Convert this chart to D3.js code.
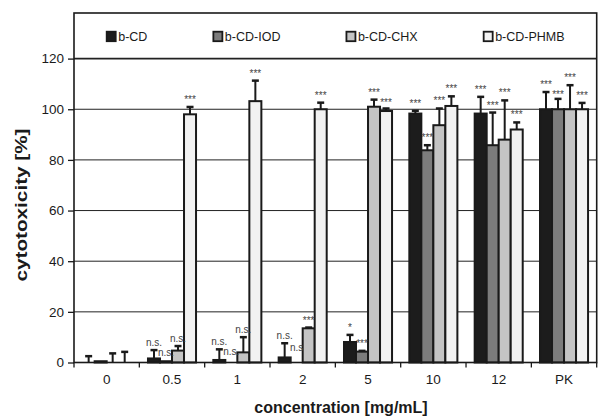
<!DOCTYPE html>
<html>
<head>
<meta charset="utf-8">
<script src="https://cdn.jsdelivr.net/npm/d3@7"></script>
<style>
  body { margin: 0; background: #fff; }
  svg { display: block; font-family: "Liberation Sans", Arial, sans-serif; }
</style>
</head>
<body>
<div id="chart"></div>
<script>
// concentrations on the x axis
var groups = ["0", "0.5", "1", "2", "5", "10", "12", "PK"];
var seriesNames = ["b-CD", "b-CD-IOD", "b-CD-CHX", "b-CD-PHMB"];
var yTicks = [0, 20, 40, 60, 80, 100, 120];

// mean cytotoxicity [%]
var bCD  = [0, 1.6, 1.0, 2.0, 8.1, 98.3, 98.3, 100];
var bIOD = [0.5, 0.5, 0, 0, 4.3, 83.8, 85.8, 100];
var bCHX = [0, 4.7, 4.0, 13.5, 101, 93.7, 88, 100];
var bPHMB = [0, 98, 103.2, 100, 99.3, 101.3, 92, 100];

// upper error (SD)
var errCD  = [2.5, 3.3, 4.2, 5.6, 2.8, 1.1, 6.6, 6.8];
var errIOD = [0, 0, 0, 0, 0.3, 2.0, 12.9, 4.1];
var errCHX = [3.6, 1.8, 6.0, 0.3, 2.8, 6.6, 15.5, 9.5];
var errPHMB = [4.2, 2.9, 8.1, 2.6, 1.0, 3.8, 2.8, 2.5];

// significance labels
var sigCD  = ["", "n.s.", "n.s.", "n.s.", "*", "***", "***", "***"];
var sigIOD = ["", "n.s.", "n.s.", "n.s", "***", "***", "***", "***"];
var sigCHX = ["", "n.s.", "n.s.", "***", "***", "***", "***", "***"];
var sigPHMB = ["", "***", "***", "***", "***", "***", "***", "***"];

var means = [bCD, bIOD, bCHX, bPHMB];
var errs = [errCD, errIOD, errCHX, errPHMB];
var sigs = [sigCD, sigIOD, sigCHX, sigPHMB];
var fills = ["#1c1c1c", "#7c7c7c", "#c4c4c4", "#f2f2f2"];

var width = 598, height = 417;
var mLeft = 74, mRight = 596.7, frameTop = 13, plotTop = 58.6, plotBottom = 362.5;

var svg = d3.select("#chart").append("svg")
  .attr("width", width)
  .attr("height", height);

var x = d3.scaleBand().domain(groups).range([mLeft, mRight]).padding(0);
var xSub = d3.scaleBand().domain(seriesNames).range([0, x.bandwidth()])
  .paddingInner(0).paddingOuter(0.72);
var y = d3.scaleLinear().domain([0, 120]).range([plotBottom, plotTop]);

function cx(d) { return x(d.group) + xSub(d.series) + xSub.bandwidth() / 2; }

// flatten into records
var rows = [];
groups.forEach(function(g, i) {
  seriesNames.forEach(function(s, j) {
    rows.push({ group: g, series: s, k: j, v: means[j][i], e: errs[j][i], sig: sigs[j][i] });
  });
});

// grid lines
svg.append("g").selectAll("line").data(yTicks.filter(function(t) { return t > 0; }))
  .enter().append("line")
  .attr("x1", mLeft).attr("x2", mRight)
  .attr("y1", function(d) { return y(d); })
  .attr("y2", function(d) { return y(d); })
  .attr("stroke", "#222")
  .attr("stroke-width", function(d) { return d === 120 ? 1.6 : 1; });

// bars
svg.append("g").selectAll("rect").data(rows.filter(function(d) { return d.v > 0; }))
  .enter().append("rect")
  .attr("x", function(d) { return x(d.group) + xSub(d.series); })
  .attr("y", function(d) { return y(d.v); })
  .attr("width", xSub.bandwidth())
  .attr("height", function(d) { return y(0) - y(d.v); })
  .attr("fill", function(d) { return fills[d.k]; })
  .attr("stroke", "#1a1a1a")
  .attr("stroke-width", 2);

// error bars (upper only)
var eb = svg.append("g").selectAll("g").data(rows.filter(function(d) { return d.e > 0; }))
  .enter().append("g")
  .attr("stroke", "#1a1a1a");
eb.append("line")
  .attr("x1", cx).attr("x2", cx)
  .attr("y1", function(d) { return y(d.v); })
  .attr("y2", function(d) { return y(d.v + d.e); })
  .attr("stroke-width", 2);
eb.append("line")
  .attr("x1", function(d) { return cx(d) - 3.5; })
  .attr("x2", function(d) { return cx(d) + 3.5; })
  .attr("y1", function(d) { return y(d.v + d.e); })
  .attr("y2", function(d) { return y(d.v + d.e); })
  .attr("stroke-width", 2.5);

// significance labels, nudged down when they would collide with the previous one
var labelled = rows.filter(function(d) { return d.sig; });
var prev = null;
labelled.forEach(function(d) {
  d.ly = y(Math.max(d.v + d.e, 3)) - 4;
  if (prev && prev.group === d.group && Math.abs(d.ly - prev.ly) < 9) {
    d.ly = prev.ly + 10;
  }
  prev = d;
});
svg.append("g").selectAll("text").data(labelled)
  .enter().append("text")
  .attr("x", cx)
  .attr("y", function(d) { return d.ly; })
  .attr("text-anchor", "middle")
  .attr("font-size", 10)
  .attr("fill", "#444")
  .text(function(d) { return d.sig; });

// frame
svg.append("rect")
  .attr("x", mLeft).attr("y", frameTop)
  .attr("width", mRight - mLeft).attr("height", plotBottom - frameTop)
  .attr("fill", "none")
  .attr("stroke", "#1a1a1a")
  .attr("stroke-width", 1.6);

// y axis
var yAxis = d3.axisLeft(y).tickValues(yTicks).tickSize(6).tickPadding(4);
var yg = svg.append("g").attr("transform", "translate(" + mLeft + ",0)").call(yAxis);
yg.select(".domain").remove();
yg.selectAll("line").attr("stroke", "#1a1a1a").attr("stroke-width", 1.3);
yg.selectAll("text").attr("font-size", 13.5).attr("fill", "#1a1a1a")
  .attr("font-family", "Liberation Sans, Arial, sans-serif");

// x axis: ticks at group boundaries, labels at centres
var xAxis = d3.axisBottom(x).tickSize(0).tickPadding(12);
var xg = svg.append("g").attr("transform", "translate(0," + plotBottom + ")").call(xAxis);
xg.select(".domain").remove();
xg.selectAll("text").attr("font-size", 13.5).attr("fill", "#1a1a1a")
  .attr("font-family", "Liberation Sans, Arial, sans-serif");
svg.append("g").selectAll("line").data(groups.concat(["end"]))
  .enter().append("line")
  .attr("x1", function(d, i) { return mLeft + i * x.step(); })
  .attr("x2", function(d, i) { return mLeft + i * x.step(); })
  .attr("y1", plotBottom).attr("y2", plotBottom + 5)
  .attr("stroke", "#1a1a1a").attr("stroke-width", 1.3);

// axis titles
svg.append("text")
  .attr("x", 341).attr("y", 413)
  .attr("text-anchor", "middle")
  .attr("font-size", 16).attr("font-weight", "bold").attr("fill", "#1a1a1a")
  .text("concentration [mg/mL]");

svg.append("text")
  .attr("transform", "translate(27,205)rotate(-90)")
  .attr("text-anchor", "middle")
  .attr("font-size", 16).attr("font-weight", "bold").attr("fill", "#1a1a1a")
  .attr("textLength", 153).attr("lengthAdjust", "spacingAndGlyphs")
  .text("cytotoxicity [%]");

// legend
var legend = svg.append("g");
var lx = 106.7;
seriesNames.forEach(function(s, j) {
  legend.append("rect")
    .attr("x", lx).attr("y", 31.7)
    .attr("width", 9).attr("height", 9.5)
    .attr("fill", fills[j])
    .attr("stroke", "#1a1a1a").attr("stroke-width", 1.8);
  var t = legend.append("text")
    .attr("x", lx + 11.5).attr("y", 41.3)
    .attr("font-size", 12.5).attr("fill", "#1a1a1a")
    .text(s);
  lx += 11.5 + t.node().getComputedTextLength() + 66;
});
</script>
</body>
</html>
